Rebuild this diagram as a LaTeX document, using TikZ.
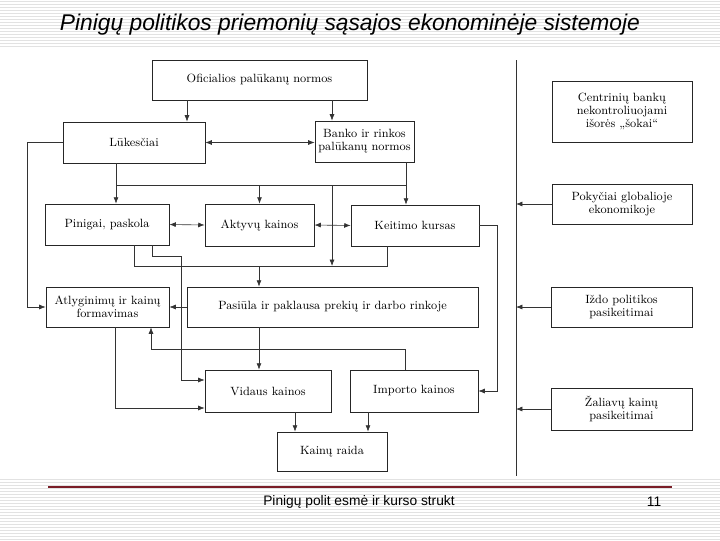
\documentclass[tikz,border=0pt]{standalone}
\usepackage{fontspec}
\newfontfamily\slidefont{Liberation Sans}
\usetikzlibrary{arrows.meta}
\definecolor{footred}{RGB}{122,30,40}
\definecolor{stripe}{RGB}{226,226,226}

\begin{document}
\begin{tikzpicture}[x=0.025cm, y=-0.025cm,
    box/.style={draw=black!85, line width=0.6pt, fill=white, inner sep=1pt, align=center, font=\fontsize{8.5}{9.4}\selectfont},
    link/.style={draw=black!80, line width=0.45pt, -{Latex[length=4.5pt,width=3.5pt]}},
    both/.style={draw=black!80, line width=0.45pt, {Latex[length=4.5pt,width=3.5pt]}-{Latex[length=4.5pt,width=3.5pt]}},
    wire/.style={draw=black!80, line width=0.45pt}]
    \useasboundingbox (0,0) rectangle (720,540);
    % slide background
    \foreach \y in {1,4,...,46} \draw[stripe, line width=0.5pt] (0,\y) -- (720,\y);
    \foreach \y in {479,482,...,539} \draw[stripe, line width=0.5pt] (0,\y) -- (720,\y);
    \node[anchor=base west, font=\slidefont\itshape\fontsize{16.2}{19}\selectfont] (title) at (55,30) {Pinigų politikos priemonių sąsajos ekonominėje sistemoje};

    % left part of the scheme
    \node[box, minimum width=5.375cm, minimum height=1cm] (ofic) at (259.5,80) {Oficialios palūkanų normos};
    \node[box, minimum width=3.55cm, minimum height=1.025cm] (luk) at (134,142.5) {Lūkesčiai};
    \node[box, minimum width=2.475cm, minimum height=1.025cm] (bank) at (364.5,141.5) {Banko ir rinkos\\palūkanų normos};
    \node[box, minimum width=3.1cm, minimum height=1.025cm] (pin) at (107,224.5) {Pinigai, paskola};
    \node[box, minimum width=2.725cm, minimum height=1.05cm] (akt) at (259.5,225) {Aktyvų kainos};
    \node[box, minimum width=3.2cm, minimum height=1.025cm] (keit) at (415,225.5) {Keitimo kursas};
    \node[box, minimum width=3.075cm, minimum height=1cm] (atl) at (107.5,307) {Atlyginimų ir kainų\\formavimas};
    \node[box, minimum width=7.275cm, minimum height=1cm] (pas) at (332.5,307) {Pasiūla ir paklausa prekių ir darbo rinkoje};
    \node[box, minimum width=3.15cm, minimum height=1.05cm] (vid) at (268,391) {Vidaus kainos};
    \node[box, minimum width=3.2cm, minimum height=1.05cm] (imp) at (414,391) {Importo kainos};
    \node[box, minimum width=2.75cm, minimum height=0.975cm] (raida) at (332,451.5) {Kainų raida};

    % outside shocks
    \node[box, minimum width=3.5cm, minimum height=1.525cm] (cent) at (622,111.5) {Centrinių bankų\\nekontroliuojami\\išorės „šokai“};
    \node[box, minimum width=3.5cm, minimum height=1cm] (pok) at (622,204) {Pokyčiai globalioje\\ekonomikoje};
    \node[box, minimum width=3.525cm, minimum height=1cm] (izd) at (621.5,307) {Iždo politikos\\pasikeitimai};
    \node[box, minimum width=3.525cm, minimum height=1.05cm] (zal) at (621.5,409) {Žaliavų kainų\\pasikeitimai};
    \coordinate (wtop) at (516,60);
    \coordinate (wbot) at (516,476);
    \draw[wire, line width=0.6pt] (wtop) -- (wbot);
    \draw[link] (pok.west) -- (pok.west -| wtop);
    \draw[link] (izd.west) -- (izd.west -| wtop);
    \draw[link] (zal.west) -- (zal.west -| wtop);

    % connectors
    \draw[link] (ofic.south -| 187,0) -- (luk.north -| 187,0);
    \draw[link] (ofic.south -| 332,0) -- (bank.north -| 332,0);
    \draw[both] (luk.east) -- (luk.east -| bank.west);
    \draw[link] (luk.west) -- ++(-35,0) |- (atl.west);
    \draw[link] (luk.south -| 116,0) -- (pin.north -| 116,0);
    \draw[wire] (116,185) -- (406,185);
    \draw[link] (259.5,185) -- (akt.north);
    \draw[link] (bank.south -| 406,0) -- (keit.north -| 406,0);
    \draw[link] (332,185) -- (332,266);
    \draw[both] (pin.east) -- (akt.west);
    \draw[both] (akt.east) -- (keit.west);
    \draw[wire] (pin.south -| 134,0) |- (387,266) -- (keit.south -| 387,0);
    \draw[link] (259,266) -- (pas.north -| 259,0);
    \draw[link] (pin.south -| 152,0) -- (152,256) -| (181,380) -- (vid.west |- 0,380);
    \draw[link] (keit.east) -- ++(18,0) |- (imp.east);
    \draw[link] (pas.west) -- (atl.east);
    \draw[link] (pas.south -| 259,0) -- (vid.north -| 259,0);
    \draw[link] (imp.north -| 405,0) |- (151,349) -- (atl.south -| 151,0);
    \draw[link] (atl.south -| 115,0) |- (vid.west |- 0,408);
    \draw[link] (vid.south -| 295,0) -- (raida.north -| 295,0);
    \draw[link] (imp.south -| 368,0) -- (raida.north -| 368,0);

    % footer
    \draw[footred, line width=0.8pt] (48,487) -- (672,487);
    \node[font=\slidefont\fontsize{9.8}{11}\selectfont] (foot) at (359,502) {Pinigų polit esmė ir kurso strukt};
    \node[font=\slidefont\fontsize{9.8}{11}\selectfont] (page) at (654,502) {11};
\end{tikzpicture}
\end{document}
